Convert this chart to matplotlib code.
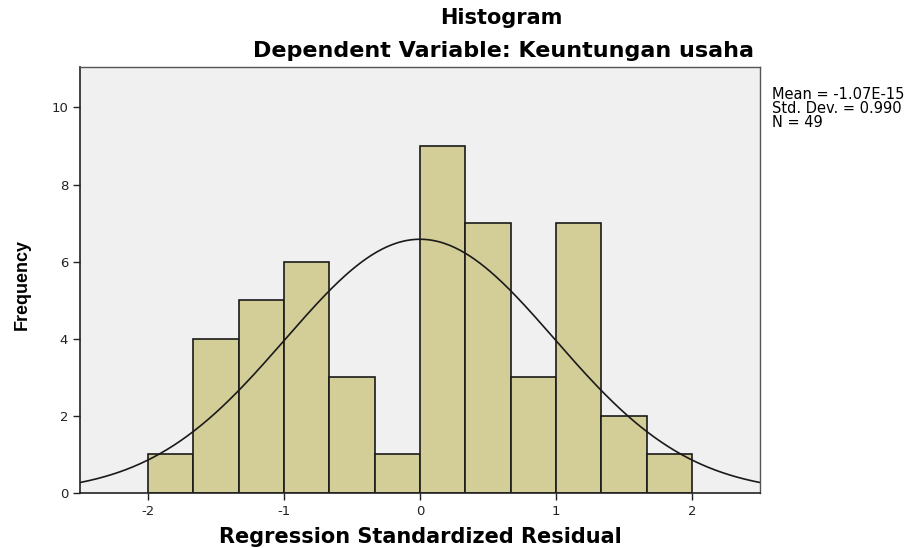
import numpy as np
import matplotlib.pyplot as plt

plt.rcParams['font.family'] = ['DejaVu Sans']
plt.rcParams['axes.unicode_minus'] = False

# histogram bins and counts
bin_edges = [-2.0, -5/3, -4/3, -1.0, -2/3, -1/3, 0.0, 1/3, 2/3, 1.0, 4/3, 5/3, 2.0]
counts = [1, 4, 5, 6, 3, 1, 9, 7, 3, 7, 2, 1]
mean_val = -1.07e-15
std_val = 0.990
n_obs = 49

fig = plt.figure(figsize=(9.15, 5.48), dpi=100)
ax = fig.add_axes([0.0874, 0.1004, 0.7432, 0.7773])
ax.set_facecolor("#f0f0f0")

widths = np.diff(bin_edges)
ax.bar(bin_edges[:-1], counts, width=widths, align="edge",
       color="#d3ce97", edgecolor="#1a1a1a", linewidth=1.2)

# normal curve scaled to counts
xs = np.linspace(-2.5, 2.5, 400)
bw = widths[0]
pdf = np.exp(-0.5 * ((xs - mean_val) / std_val) ** 2) / (std_val * np.sqrt(2 * np.pi))
ax.plot(xs, pdf * n_obs * bw, color="#1a1a1a", linewidth=1.2)

ax.set_xlim(-2.5, 2.5)
ax.set_ylim(0, 11.05)
ax.set_xticks([-2, -1, 0, 1, 2])
ax.set_yticks([0, 2, 4, 6, 8, 10])
ax.tick_params(axis="both", labelsize=9.5, colors="#222222", length=5, width=1)
for s in ["left", "bottom"]:
    ax.spines[s].set_color("#222222")
    ax.spines[s].set_linewidth(1.2)
for s in ["top", "right"]:
    ax.spines[s].set_color("#555555")
    ax.spines[s].set_linewidth(1.0)

ax.set_xlabel("Regression Standardized Residual", fontsize=15, fontweight="bold",
              va="baseline")
ax.xaxis.set_label_coords(0.5, -0.1176)
ax.set_ylabel("Frequency", fontsize=13, fontweight="bold",
              family=["Liberation Sans Narrow", "Liberation Sans"], va="center")
ax.yaxis.set_label_coords(-0.085, 0.49)

fig.text(0.548, 0.956, "Histogram", ha="center", va="baseline", fontsize=15, fontweight="bold")
fig.text(0.550, 0.896, "Dependent Variable: Keuntungan usaha", ha="center", va="baseline",
         fontsize=16, fontweight="bold")

fig.text(0.844, 0.841, f"Mean = {mean_val:.2E}\nStd. Dev. = {std_val:.3f}\nN = {n_obs}",
         ha="left", va="top", fontsize=10.5, linespacing=0.9)

fig.savefig("out.png", dpi=100)
